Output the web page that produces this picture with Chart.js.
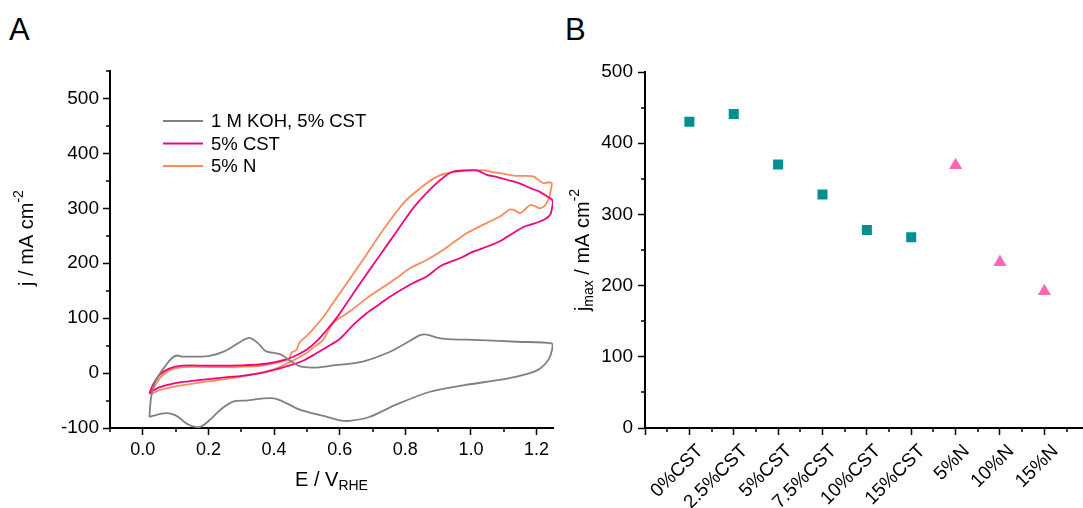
<!DOCTYPE html>
<html>
<head>
<meta charset="utf-8">
<script src="https://cdn.jsdelivr.net/npm/chart.js@4.4.1/dist/chart.umd.min.js"></script>
<style>
  body { margin:0; background:#fff; width:1083px; height:508px; position:relative; overflow:hidden; font-family:"Liberation Sans", Arial, sans-serif; }
  canvas { position:absolute; top:0; }
  #cvChart { left:0; }
  #jmaxChart { left:560px; }
  .panel { position:absolute; font-size:31px; color:#000; }
</style>
</head>
<body>
<div class="panel" style="left:9px; top:12px;">A</div>
<div class="panel" style="left:565px; top:12px;">B</div>
<canvas id="cvChart" width="560" height="508"></canvas>
<!-- a little wider than the window: Chart.js keeps a few px free for the markers -->
<canvas id="jmaxChart" width="531" height="508"></canvas>
<script>
// --- panel A: CV loops (E in V_RHE, j in mA cm-2)
const kohE = [0.02,0.025,0.035,0.05,0.07,0.09,0.105,0.12,0.2,0.25,0.3,0.325,0.35,0.375,0.42,0.45,0.48,0.52,0.57,0.67,0.75,0.8,0.845,0.865,0.9,0.93,1.03,1.14,1.245,1.248,1.236,1.21,1.18,1.11,0.98,0.875,0.77,0.69,0.63,0.6,0.55,0.48,0.4,0.315,0.275,0.24,0.21,0.175,0.14,0.1,0.07,0.03,0.02];
const kohJ = [-80,-45,-20,-3,14,28,32,30,31,40,58,64,55,40,34,22,12,10,13,21,38,54,69,70,64,62,60,57,54,45,24,8,0,-10,-22,-34,-58,-80,-87,-86,-78,-67,-46,-50,-52,-65,-82,-98,-94,-77,-73,-78,-80];

const cstE = [0.02,0.03,0.05,0.08,0.12,0.2,0.3,0.376,0.437,0.47,0.5,0.53,0.56,0.59,0.63,0.67,0.71,0.75,0.783,0.83,0.885,0.92,0.946,0.98,1.017,1.048,1.08,1.109,1.15,1.18,1.21,1.231,1.249,1.247,1.241,1.225,1.21,1.18,1.16,1.129,1.11,1.088,1.048,1.007,0.966,0.935,0.905,0.865,0.824,0.783,0.753,0.72,0.682,0.64,0.6,0.56,0.529,0.49,0.448,0.397,0.35,0.295,0.25,0.193,0.14,0.092,0.05,0.026,0.02];
const cstJ = [-37,-22,-4,8,13.5,13.5,14,17,25,33,43,58,78,100,135,170,204,238,266,305,340,358,367,369,369,361,357,352,345,337,330,322,314,300,288,280,276,270,266,255,248,240,230,221,209,202,194,176,164,150,139,125,109,87,62,47,36,23,14,5.5,-1,-5.5,-8,-11.5,-15,-19,-26,-34,-37];

const nE = [0.02,0.03,0.051,0.081,0.122,0.2,0.3,0.36,0.417,0.445,0.45,0.455,0.468,0.478,0.5,0.519,0.55,0.58,0.63,0.682,0.72,0.763,0.8,0.834,0.87,0.905,0.956,1.007,1.042,1.065,1.088,1.115,1.139,1.165,1.19,1.205,1.22,1.235,1.246,1.243,1.236,1.225,1.21,1.195,1.18,1.165,1.149,1.135,1.119,1.1,1.088,1.058,1.03,1.007,0.985,0.966,0.94,0.915,0.865,0.814,0.78,0.743,0.682,0.63,0.58,0.549,0.52,0.498,0.448,0.397,0.295,0.2,0.092,0.05,0.026,0.02];
const nJ = [-36,-30,-10,5,11,11,11.5,13,20,25,33,38,42,56,68,80,102,128,171,216,250,286,313,331,348,360,367,369,369,366,364,361,359,359,358,352,346,347,346,332,316,305,300,304,306,298,291,296,298,290,285,276,268,261,254,246,235,224,206,191,176,161,136,112,91,60,47,36,20,6.5,-7,-15,-25,-31,-38,-36];

const cvLabels = ['1 M KOH, 5% CST', '5% CST', '5% N'];
const cvColors = ['#808080', '#f0047f', '#fa8a5c'];
const xTicksA = [0, 0.2, 0.4, 0.6, 0.8, 1.0, 1.2];
const xMinorA = [-0.1, 0.1, 0.3, 0.5, 0.7, 0.9, 1.1];
const yTicksA = [-100, 0, 100, 200, 300, 400, 500];
const yMinorA = [-50, 50, 150, 250, 350, 450, 550];

// --- panel B: j_max per sample
const samples = ['0%CST','2.5%CST','5%CST','7.5%CST','10%CST','15%CST','5%N','10%N','15%N'];
const jmaxCST = [430, 441, 370, 328, 278, 268, null, null, null];
const jmaxN   = [null, null, null, null, null, null, 369, 233, 192];
const yTicksB = [0, 100, 200, 300, 400, 500];
const yMinorB = [50, 150, 250, 350, 450];

const FONT = '"Liberation Sans", Arial, sans-serif';
const pts = (xs, ys) => xs.map((x, i) => ({x, y: ys[i]}));

function drawRich(ctx, parts, cx, cy, angle, size){
  ctx.save();
  ctx.translate(cx, cy);
  ctx.rotate(angle);
  ctx.fillStyle = '#000';
  ctx.textBaseline = 'middle';
  const fnt = p => `${p.s ? Math.round(size*0.68) : size}px ${FONT}`;
  const ws = parts.map(p => { ctx.font = fnt(p); return ctx.measureText(p.t).width; });
  let x = -ws.reduce((a, b) => a + b, 0) / 2;
  parts.forEach((p, i) => {
    ctx.font = fnt(p);
    const dy = p.s === 'sub' ? size*0.3 : p.s === 'sup' ? -size*0.38 : 0;
    ctx.fillText(p.t, x, dy);
    x += ws[i];
  });
  ctx.restore();
}

function minorTicks(xs, ys){
  return {
    id: 'minorTicks',
    afterDraw(chart){
      const {ctx, chartArea: a, scales: {x, y}} = chart;
      ctx.save();
      ctx.strokeStyle = '#000';
      ctx.lineWidth = 1.5;
      ctx.beginPath();
      xs.forEach(v => { const p = Math.round(x.getPixelForValue(v)); ctx.moveTo(p, a.bottom); ctx.lineTo(p, a.bottom + 4); });
      ys.forEach(v => { const p = Math.round(y.getPixelForValue(v)); ctx.moveTo(a.left, p); ctx.lineTo(a.left - 4, p); });
      ctx.stroke();
      ctx.restore();
    }
  };
}

const cvDecor = {
  id: 'cvDecor',
  afterDraw(chart){
    const {ctx, chartArea: a} = chart;
    drawRich(ctx, [{t:'E / V'}, {t:'RHE', s:'sub'}], (a.left + a.right)/2, 480, 0, 20);
    drawRich(ctx, [{t:'j / mA cm'}, {t:'-2', s:'sup'}], 27, 238, -Math.PI/2, 20);
    // legend
    ctx.save();
    ctx.font = `18.5px ${FONT}`;
    ctx.textBaseline = 'middle';
    chart.data.datasets.forEach((ds, i) => {
      const yy = 121 + i * 22.5;
      ctx.strokeStyle = ds.borderColor;
      ctx.lineWidth = 1.8;
      ctx.beginPath(); ctx.moveTo(163, yy); ctx.lineTo(203, yy); ctx.stroke();
      ctx.fillStyle = '#000';
      ctx.fillText(ds.label, 211, yy + 1);
    });
    ctx.restore();
  }
};

const jmaxDecor = {
  id: 'jmaxDecor',
  afterDraw(chart){
    drawRich(chart.ctx, [{t:'j'}, {t:'max', s:'sub'}, {t:' / mA cm'}, {t:'-2', s:'sup'}], 23, 250, -Math.PI/2, 20);
  }
};

const axisCommon = (fontSize) => ({
  border: { display:true, color:'#000', width:2 },
  grid: { drawOnChartArea:false, drawTicks:true, tickLength:7, tickColor:'#000', tickWidth:1.5 },
  ticks: { color:'#000', font:{ family:FONT, size:fontSize } }
});

new Chart(document.getElementById('cvChart'), {
  type: 'scatter',
  data: {
    datasets: [[kohE, kohJ], [cstE, cstJ], [nE, nJ]].map(([e, j], i) => ({
      label: cvLabels[i], data: pts(e, j), showLine: true, borderColor: cvColors[i],
      borderWidth: 1.8, pointRadius: 0, tension: 0.3, fill: false
    }))
  },
  options: {
    responsive: false, animation: false,
    layout: { padding: { top: 71, right: 7, left: 0, bottom: 0 } },
    plugins: { legend: { display:false }, tooltip: { enabled:false } },
    scales: {
      x: { ...axisCommon(18), type:'linear', min:-0.1, max:1.25,
           afterFit: s => { s.height = 80; s.paddingLeft = 0; s.paddingRight = 0; },
           afterBuildTicks: s => { s.ticks = xTicksA.map(v => ({value:v})); },
           ticks: { ...axisCommon(18).ticks, padding:4, maxRotation:0, callback: v => v.toFixed(1) } },
      y: { ...axisCommon(19), min:-100, max:550,
           afterFit: s => { s.width = 110; },
           afterBuildTicks: s => { s.ticks = yTicksA.map(v => ({value:v})); },
           ticks: { ...axisCommon(19).ticks, padding:4 } }
    }
  },
  plugins: [minorTicks(xMinorA, yMinorA), cvDecor]
});

new Chart(document.getElementById('jmaxChart'), {
  type: 'scatter',
  data: {
    datasets: [
      { label:'CST', data: jmaxCST.map((v, i) => ({x:i+1, y:v})), pointStyle:'rect', pointRadius:7.1,
        backgroundColor:'#009090', borderColor:'#009090', borderWidth:0 },
      { label:'N', data: jmaxN.map((v, i) => ({x:i+1, y:v})), pointStyle:'triangle', pointRadius:7.6,
        backgroundColor:'#ff69b4', borderColor:'#ff69b4', borderWidth:0 }
    ]
  },
  options: {
    responsive: false, animation: false,
    layout: { padding: { top: 72, right: 0, left: 0, bottom: 0 } },
    plugins: { legend: { display:false }, tooltip: { enabled:false } },
    scales: {
      x: { ...axisCommon(19), type:'linear', min:0, max:9.88,
           afterFit: s => { s.height = 80; s.paddingLeft = 0; s.paddingRight = 0; },
           afterBuildTicks: s => { s.ticks = [0, ...samples.map((c, i) => i + 1)].map(v => ({value:v})); },
           ticks: { ...axisCommon(19).ticks, padding:5, labelOffset:11, minRotation:45, maxRotation:45, autoSkip:false,
                    callback: v => samples[v - 1] || '' } },
      y: { ...axisCommon(19), min:0, max:500,
           afterFit: s => { s.width = 85; },
           afterBuildTicks: s => { s.ticks = yTicksB.map(v => ({value:v})); },
           ticks: { ...axisCommon(19).ticks, padding:5 } }
    }
  },
  plugins: [minorTicks([0.5,1.5,2.5,3.5,4.5,5.5,6.5,7.5,8.5,9.5], yMinorB), jmaxDecor]
});
</script>
</body>
</html>
